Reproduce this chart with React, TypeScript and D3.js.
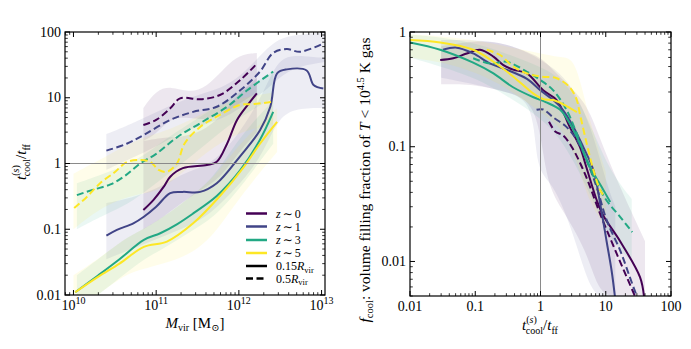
import React from 'react';
import * as d3 from 'd3';

type Pt = [number, number];
type BandPt = [number, number, number];

// ---- tick labels ----
const massTicks = [1e10, 1e11, 1e12, 1e13];
const massTickExps = ['10', '11', '12', '13'];
const ratioTicks = [0.01, 0.1, 1, 10, 100];
const ratioTickLabels = ['0.01', '0.1', '1', '10', '100'];
const fracTicks = [0.01, 0.1, 1];
const fracTickLabels = ['0.01', '0.1', '1'];

const redshifts = ['0', '1', '3', '5'];
const radii = ['0.15', '0.5'];

// ---- left panel: t_cool/t_ff vs M_vir  [M, ratio] ----
const lZ0Solid: Pt[] = [[7e10, 0.196], [9.3e10, 0.28], [1.23e11, 0.44], [1.48e11, 0.63], [2.1e11, 0.85], [4.1e11, 0.95], [5.4e11, 1.06], [7.2e11, 2.0], [9.5e11, 4.6], [1.3e12, 8], [1.65e12, 11.7]];
const lZ1Solid: Pt[] = [[2.5e10, 0.08], [3.35e10, 0.098], [5.3e10, 0.123], [7.1e10, 0.155], [1.0e11, 0.22], [1.48e11, 0.355], [2.1e11, 0.37], [3.4e11, 0.37], [5.4e11, 0.5], [1.04e12, 1.3], [1.8e12, 3.2], [2.4e12, 7.3], [2.9e12, 23.5], [3.8e12, 27], [6.6e12, 26], [8e12, 15.6], [1.05e13, 13.8]];
const lZ3Solid: Pt[] = [[1.05e10, 0.011], [2e10, 0.02], [3.6e10, 0.035], [7.1e10, 0.069], [1.12e11, 0.087], [1.8e11, 0.12], [2.8e11, 0.174], [5.4e11, 0.32], [1.04e12, 0.79], [1.8e12, 2.3], [2.6e12, 6.1]];
const lZ5Solid: Pt[] = [[1.05e10, 0.011], [2e10, 0.019], [3.6e10, 0.03], [7.1e10, 0.054], [1.35e11, 0.065], [2.8e11, 0.123], [5.9e11, 0.32], [1.15e12, 0.89], [1.8e12, 2.0], [2.9e12, 4.3]];

const lZ0Dashed: Pt[] = [[7e10, 3.85], [1e11, 4.6], [1.48e11, 6.9], [1.95e11, 9.8], [3.4e11, 9.5], [5.9e11, 11], [1.04e12, 18.6], [1.65e12, 33]];
const lZ1Dashed: Pt[] = [[2.5e10, 1.57], [4.4e10, 2.0], [7e10, 2.7], [1.48e11, 4.6], [2.8e11, 6.1], [5.4e11, 7.3], [1.04e12, 13], [1.8e12, 25], [2.6e12, 48], [3.8e12, 55], [5.5e12, 50], [1.05e13, 67]];
const lZ3Dashed: Pt[] = [[1.1e10, 0.33], [1.74e10, 0.4], [2.8e10, 0.48], [4.2e10, 0.65], [6.4e10, 1.0], [1e11, 1.4], [1.78e11, 2.5], [3.4e11, 4.1], [7.2e11, 7.3], [1.26e12, 13], [2.6e12, 25]];
const lZ5Dashed: Pt[] = [[1.02e10, 0.21], [1.45e10, 0.31], [2.1e10, 0.5], [3.2e10, 0.75], [4.4e10, 1.05], [6.4e10, 1.13], [8.5e10, 1.06], [1.07e11, 0.8], [1.35e11, 0.75], [1.78e11, 1.0], [2.2e11, 2.0], [3.4e11, 3.6], [5.9e11, 5.5], [1.04e12, 7.8], [1.5e12, 8.0], [2.6e12, 8.7]];

// [M, lo, hi]
const lZ0SolidBand: BandPt[] = [[7e10, 0.1, 2.2], [1.2e11, 0.15, 2.5], [2e11, 0.25, 2.5], [3.5e11, 0.4, 3], [6e11, 0.6, 5], [1e12, 1.5, 12], [1.65e12, 3, 20]];
const lZ1SolidBand: BandPt[] = [[2.5e10, 0.035, 0.25], [5e10, 0.05, 0.3], [1e11, 0.07, 0.4], [2e11, 0.1, 0.7], [4e11, 0.15, 0.9], [7e11, 0.3, 1.6], [1.2e12, 0.6, 4], [2e12, 1.5, 12], [3e12, 5, 40], [5e12, 7, 45], [1.1e13, 7, 40]];
const lZ3SolidBand: BandPt[] = [[1.1e10, 0.006, 0.02], [2e10, 0.01, 0.035], [4e10, 0.02, 0.07], [7e10, 0.035, 0.1], [1.2e11, 0.05, 0.15], [2.5e11, 0.09, 0.3], [5e11, 0.15, 0.6], [1e12, 0.4, 2.5], [2.6e12, 2, 9]];
const lZ5SolidBand: BandPt[] = [[1e10, 0.006, 0.02], [2e10, 0.01, 0.035], [4e10, 0.02, 0.07], [7e10, 0.025, 0.1], [1.2e11, 0.03, 0.15], [2.5e11, 0.04, 0.3], [5e11, 0.08, 0.6], [1e12, 0.3, 2], [2.9e12, 1.5, 7]];
const lZ0DashedBand: BandPt[] = [[7e10, 2.2, 7], [1e11, 2.8, 13], [1.5e11, 5, 15], [2.5e11, 5, 12], [4e11, 4.5, 14], [7e11, 6, 30], [1e12, 8, 45], [1.65e12, 12, 48]];
const lZ1DashedBand: BandPt[] = [[2.5e10, 0.8, 2.8], [5e10, 1.2, 4], [1e11, 1.8, 6], [2e11, 3, 9], [4e11, 4, 12], [7e11, 5, 15], [1.2e12, 8, 25], [2e12, 12, 50], [3e12, 20, 80], [5e12, 30, 90], [1.1e13, 35, 100]];
const lZ3DashedBand: BandPt[] = [[1.1e10, 0.1, 0.5], [2e10, 0.15, 0.65], [4e10, 0.22, 0.9], [7e10, 0.35, 1.3], [1.2e11, 0.6, 2.2], [2.5e11, 1.2, 4], [5e11, 2.5, 7], [1e12, 5, 12], [2.6e12, 10, 25]];
const lZ5DashedBand: BandPt[] = [[1e10, 0.1, 0.7], [2e10, 0.2, 1.1], [4e10, 0.3, 1.8], [7e10, 0.35, 2.5], [1.2e11, 0.4, 3], [2.5e11, 0.9, 4.5], [5e11, 1.8, 7], [1e12, 3, 10], [2.6e12, 4, 12]];

// ---- right panel: f_cool vs t_cool/t_ff  [ratio, f] ----
const rZ0Solid: Pt[] = [[0.029, 0.57], [0.046, 0.59], [0.074, 0.65], [0.118, 0.7], [0.19, 0.61], [0.27, 0.515], [0.38, 0.47], [0.62, 0.435], [1.1, 0.31], [1.77, 0.255], [2.8, 0.149], [4.0, 0.1], [5.1, 0.065], [7.3, 0.034], [9.2, 0.025], [16.6, 0.015], [33.5, 0.0073], [38.5, 0.005]];
const rZ1Solid: Pt[] = [[0.032, 0.7], [0.052, 0.73], [0.093, 0.65], [0.17, 0.53], [0.3, 0.47], [0.62, 0.39], [1.0, 0.31], [1.57, 0.255], [2.2, 0.21], [3.2, 0.149], [4.5, 0.1], [6.5, 0.062], [8.2, 0.032], [10.3, 0.015], [12.3, 0.0083], [13.8, 0.005]];
const rZ3Solid: Pt[] = [[0.01, 0.81], [0.029, 0.7], [0.093, 0.54], [0.19, 0.435], [0.38, 0.33], [0.78, 0.27], [1.2, 0.245], [2.0, 0.21], [2.8, 0.16], [4.0, 0.107], [5.8, 0.066], [9.2, 0.042], [11.7, 0.033]];
const rZ5Solid: Pt[] = [[0.01, 0.85], [0.029, 0.81], [0.093, 0.7], [0.19, 0.55], [0.38, 0.41], [0.78, 0.29], [1.1, 0.26], [1.57, 0.255], [2.5, 0.226], [3.6, 0.2]];

const rZ0Dashed: Pt[] = [[1.35, 0.165], [1.7, 0.135], [2.2, 0.126], [3.0, 0.1], [4.8, 0.058], [8.2, 0.026], [14.7, 0.0117], [28, 0.005]];
const rZ1Dashed: Pt[] = [[0.87, 0.21], [1.1, 0.211], [1.57, 0.18], [2.5, 0.149], [3.6, 0.114], [5.1, 0.076], [7.3, 0.044], [10.3, 0.023], [16.6, 0.0125], [23.4, 0.0073], [29.8, 0.005]];
const rZ3Dashed: Pt[] = [[0.093, 0.59], [0.17, 0.53], [0.3, 0.55], [0.62, 0.45], [1.0, 0.38], [1.57, 0.31], [2.5, 0.21], [3.6, 0.13], [5.1, 0.076], [7.3, 0.048], [10.3, 0.034], [16.6, 0.0245], [25.5, 0.018]];
const rZ5Dashed: Pt[] = [[0.15, 0.7], [0.24, 0.63], [0.38, 0.5], [0.62, 0.435], [1.0, 0.41], [1.77, 0.395], [2.8, 0.33], [3.6, 0.255], [4.0, 0.195], [5.1, 0.107], [6.5, 0.062], [8.2, 0.042], [9.8, 0.036]];

const rZ0Band: BandPt[] = [[0.03, 0.35, 0.75], [0.1, 0.35, 0.85], [0.3, 0.3, 0.8], [0.9, 0.25, 0.62], [1.2, 0.05, 0.55], [2, 0.03, 0.4], [5, 0.013, 0.25], [8, 0.005, 0.12], [15, 0.005, 0.05], [40, 0.005, 0.015]];
const rZ1Band: BandPt[] = [[0.03, 0.4, 0.85], [0.1, 0.35, 0.85], [0.3, 0.3, 0.8], [0.8, 0.25, 0.62], [0.85, 0.06, 0.6], [1.5, 0.05, 0.5], [3, 0.02, 0.35], [6, 0.005, 0.15], [10, 0.005, 0.05], [14, 0.005, 0.03]];
const rZ3Band: BandPt[] = [[0.01, 0.6, 0.95], [0.03, 0.5, 0.9], [0.1, 0.4, 0.8], [0.3, 0.28, 0.65], [1, 0.18, 0.5], [2, 0.12, 0.4], [4, 0.06, 0.25], [7, 0.03, 0.12], [12, 0.015, 0.06], [25, 0.01, 0.035]];
const rZ5Band: BandPt[] = [[0.01, 0.6, 0.95], [0.03, 0.55, 0.92], [0.1, 0.45, 0.85], [0.3, 0.33, 0.75], [1, 0.2, 0.65], [2, 0.15, 0.6], [3, 0.1, 0.6], [4, 0.06, 0.4], [6, 0.03, 0.15], [10, 0.02, 0.06]];

const color = (i: number) => d3.interpolateViridis(+redshifts[i] / 5);

const leftLines = [
  { z: 0, solid: lZ0Solid, dashed: lZ0Dashed, solidBand: lZ0SolidBand, dashedBand: lZ0DashedBand },
  { z: 1, solid: lZ1Solid, dashed: lZ1Dashed, solidBand: lZ1SolidBand, dashedBand: lZ1DashedBand },
  { z: 2, solid: lZ3Solid, dashed: lZ3Dashed, solidBand: lZ3SolidBand, dashedBand: lZ3DashedBand },
  { z: 3, solid: lZ5Solid, dashed: lZ5Dashed, solidBand: lZ5SolidBand, dashedBand: lZ5DashedBand },
];
const rightLines = [
  { z: 0, solid: rZ0Solid, dashed: rZ0Dashed, bands: [rZ0Band] },
  { z: 1, solid: rZ1Solid, dashed: rZ1Dashed, bands: [rZ1Band] },
  { z: 2, solid: rZ3Solid, dashed: rZ3Dashed, bands: [rZ3Band] },
  { z: 3, solid: rZ5Solid, dashed: rZ5Dashed, bands: [rZ5Band] },
];

const W = 691, H = 349;
const FONT = "'Liberation Serif', 'DejaVu Serif', serif";

const xL = d3.scaleLog().domain([7.9e9, 1.1e13]).range([65, 325]);
const yL = d3.scaleLog().domain([0.01, 100]).range([295, 32]);
const xR = d3.scaleLog().domain([0.01, 100]).range([410, 671]);
const yR = d3.scaleLog().domain([0.005, 1]).range([296, 32]);

const isMajor = (v: number) => Math.abs(Math.log10(v) - Math.round(Math.log10(v))) < 1e-6;

function Frame({ x, y }: { x: any; y: any }) {
  const [x0, x1] = x.range();
  const [y1, y0] = y.range();
  const xt = x.ticks().filter((v: number) => x(v) >= x0 && x(v) <= x1);
  const yt = y.ticks().filter((v: number) => y(v) <= y1 && y(v) >= y0);
  return (
    <g stroke="#000">
      {xt.map((v: number, i: number) => {
        const len = isMajor(v) ? 5 : 2.8;
        return (
          <g key={'x' + i} strokeWidth={isMajor(v) ? 1 : 0.8}>
            <line x1={x(v)} x2={x(v)} y1={y1} y2={y1 - len} />
            <line x1={x(v)} x2={x(v)} y1={y0} y2={y0 + len} />
          </g>
        );
      })}
      {yt.map((v: number, i: number) => {
        const len = isMajor(v) ? 5 : 2.8;
        return (
          <g key={'y' + i} strokeWidth={isMajor(v) ? 1 : 0.8}>
            <line x1={x0} x2={x0 + len} y1={y(v)} y2={y(v)} />
            <line x1={x1} x2={x1 - len} y1={y(v)} y2={y(v)} />
          </g>
        );
      })}
      <rect x={x0} y={y0} width={x1 - x0} height={y1 - y0} fill="none" strokeWidth={1.2} />
    </g>
  );
}

function Curves({ x, y, lines, clip, bandSets }: any) {
  const line = d3.line<Pt>().x(d => x(d[0])).y(d => y(d[1])).curve(d3.curveCatmullRom.alpha(0.5));
  const area = d3.area<BandPt>().x(d => x(d[0])).y0(d => y(d[1])).y1(d => y(d[2])).curve(d3.curveBasis);
  return (
    <g clipPath={`url(#${clip})`}>
      {bandSets.map((b: any, i: number) => (
        <path key={'b' + i} d={area(b.data) || ''} fill={color(b.z)} fillOpacity={0.095} stroke="none" />
      ))}
      {lines.map((s: any) => (
        <g key={'l' + s.z} fill="none" stroke={color(s.z)} strokeWidth={2}>
          <path d={line(s.dashed) || ''} strokeDasharray="7,3.5" />
          <path d={line(s.solid) || ''} />
        </g>
      ))}
    </g>
  );
}

const TcoolText = ({ size = 15 }: { size?: number }) => (
  <>
    <tspan fontStyle="italic">t</tspan>
    <tspan fontSize={10} dy={-7}>(</tspan>
    <tspan fontSize={10} fontStyle="italic">s</tspan>
    <tspan fontSize={10}>)</tspan>
    <tspan fontSize={10} dx={-11} dy={11}>cool</tspan>
    <tspan dy={-4} fontSize={size}>/</tspan>
    <tspan fontStyle="italic">t</tspan>
    <tspan fontSize={10} dy={4}>ff</tspan>
  </>
);

export default function App() {
  const leftBands = leftLines.flatMap(s => [
    { z: s.z, data: s.dashedBand },
    { z: s.z, data: s.solidBand },
  ]);
  const rightBands = rightLines.flatMap(s => s.bands.map(b => ({ z: s.z, data: b })));
  const legendRows = [213.5, 226.5, 240, 253, 266, 278.5];

  return (
    <svg width={W} height={H} style={{ position: 'absolute', left: 0, top: 0, background: '#fff' }} fontFamily={FONT}>
      <defs>
        <clipPath id="clipL"><rect x={65} y={32} width={260} height={263} /></clipPath>
        <clipPath id="clipR"><rect x={410} y={32} width={261} height={264} /></clipPath>
      </defs>

      {/* left panel */}
      <Curves x={xL} y={yL} lines={leftLines} clip="clipL" bandSets={leftBands} />
      <line x1={65} x2={325} y1={yL(1)} y2={yL(1)} stroke="#8a8a8a" strokeWidth={1} />
      <Frame x={xL} y={yL} />
      {massTicks.map((v, i) => (
        <text key={i} x={xL(v)} y={310} textAnchor="middle" fontSize={14}>
          10<tspan fontSize={10} dy={-6}>{massTickExps[i]}</tspan>
        </text>
      ))}
      {ratioTicks.map((v, i) => (
        <text key={i} x={61} y={yL(v) + 4.5} textAnchor="end" fontSize={14}>{ratioTickLabels[i]}</text>
      ))}
      <text x={195} y={328} textAnchor="middle" fontSize={15}>
        <tspan fontStyle="italic">M</tspan>
        <tspan fontSize={10} dy={3}>vir</tspan>
        <tspan dy={-3}> [M</tspan>
        <tspan fontSize={10} dy={3}>⊙</tspan>
        <tspan dy={-3}>]</tspan>
      </text>
      <text transform="translate(26,162) rotate(-90)" textAnchor="middle" fontSize={15}>
        <TcoolText />
      </text>

      {/* legend */}
      <g fontSize={12}>
        {redshifts.map((z, i) => (
          <g key={z}>
            <line x1={246} x2={267} y1={legendRows[i]} y2={legendRows[i]} stroke={color(i)} strokeWidth={2.5} />
            <text x={276} y={legendRows[i] + 4}>
              <tspan fontStyle="italic">z</tspan><tspan dx={2}>∼</tspan><tspan dx={2}>{z}</tspan>
            </text>
          </g>
        ))}
        {radii.map((r, i) => (
          <g key={r}>
            <line x1={246} x2={267} y1={legendRows[4 + i]} y2={legendRows[4 + i]} stroke="#000" strokeWidth={2.5}
              strokeDasharray={i === 1 ? '7,3.5' : undefined} />
            <text x={276} y={legendRows[4 + i] + 4}>
              {r}<tspan fontStyle="italic">R</tspan><tspan fontSize={8.5} dy={2.5}>vir</tspan>
            </text>
          </g>
        ))}
      </g>

      {/* right panel */}
      <Curves x={xR} y={yR} lines={rightLines} clip="clipR" bandSets={rightBands} />
      <line x1={xR(1)} x2={xR(1)} y1={32} y2={296} stroke="#8a8a8a" strokeWidth={1} />
      <Frame x={xR} y={yR} />
      {ratioTicks.map((v, i) => (
        <text key={i} x={xR(v)} y={311} textAnchor="middle" fontSize={14}>{ratioTickLabels[i]}</text>
      ))}
      {fracTicks.map((v, i) => (
        <text key={i} x={406} y={yR(v) + 4.5} textAnchor="end" fontSize={14}>{fracTickLabels[i]}</text>
      ))}
      <text x={540} y={330} textAnchor="middle" fontSize={15}>
        <TcoolText />
      </text>
      <text transform="translate(370,180) rotate(-90)" textAnchor="middle" fontSize={15.5}>
        <tspan fontStyle="italic">f</tspan>
        <tspan fontSize={10.5} dy={3}>cool</tspan>
        <tspan dy={-3}>: volume filling fraction of </tspan>
        <tspan fontStyle="italic">T</tspan>
        <tspan> &lt; 10</tspan>
        <tspan fontSize={10.5} dy={-6}>4.5</tspan>
        <tspan dy={6}> K gas</tspan>
      </text>
    </svg>
  );
}
